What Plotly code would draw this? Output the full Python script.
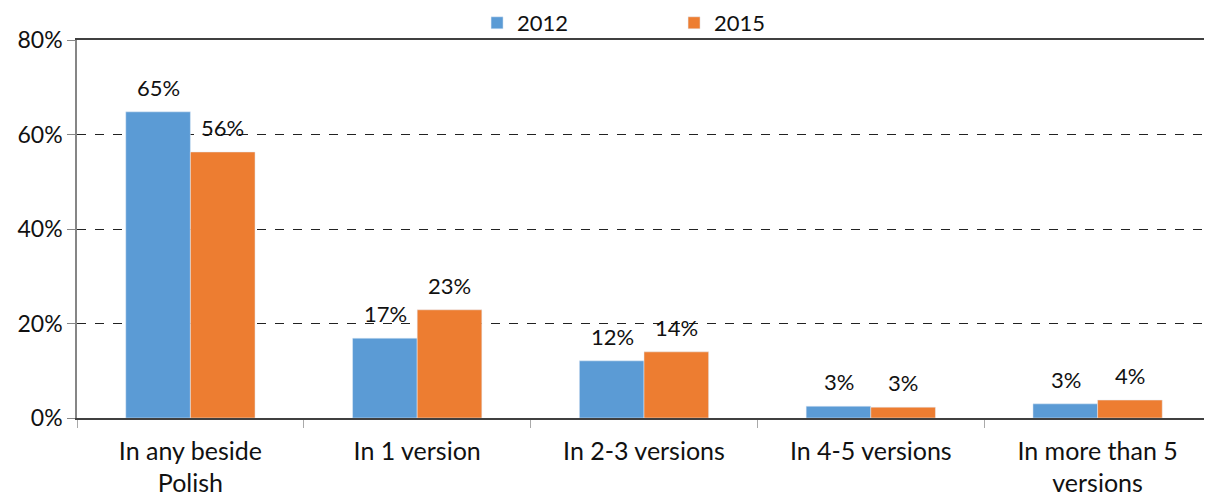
import plotly.graph_objects as go

categories = ["In any beside<br>Polish", "In 1 version", "In 2-3 versions",
              "In 4-5 versions", "In more than 5<br>versions"]
values_2012 = [64.8, 16.9, 12.1, 2.5, 3.0]
values_2015 = [56.3, 22.9, 14.0, 2.3, 3.8]
labels_2012 = ["65%", "17%", "12%", "3%", "3%"]
labels_2015 = ["56%", "23%", "14%", "3%", "4%"]

BLUE = "#5B9BD5"
ORANGE = "#ED7D31"
FONT = "Lato, 'Open Sans', sans-serif"

fig = go.Figure()
fig.add_trace(go.Bar(name="2012", x=categories, y=values_2012, marker_color=BLUE))
fig.add_trace(go.Bar(name="2015", x=categories, y=values_2015, marker_color=ORANGE))

# value labels floating above each bar
for cat, v1, t1, v2, t2 in zip(categories, values_2012, labels_2012, values_2015, labels_2015):
    fig.add_annotation(x=cat, y=v1, text=t1, xshift=-32, yshift=9,
                       yanchor="bottom", showarrow=False, font=dict(size=22))
    fig.add_annotation(x=cat, y=v2, text=t2, xshift=32, yshift=9,
                       yanchor="bottom", showarrow=False, font=dict(size=22))

# right border of the plot area
fig.add_shape(type="line", xref="paper", yref="paper", x0=1, x1=1, y0=0, y1=1,
              line=dict(color="#404040", width=1.5))

# page body has an 8px margin, so the figure is a bit smaller than the window
fig.update_layout(
    width=1204, height=494,
    margin=dict(l=69, r=1, t=32, b=84, autoexpand=False),
    plot_bgcolor="white", paper_bgcolor="white",
    font=dict(family=FONT, size=21, color="#111111"),
    barmode="group", bargap=0.43, bargroupgap=0,
    legend=dict(orientation="h", x=0.5265, xanchor="center", y=1.045, yanchor="middle",
                font=dict(size=22), entrywidth=152, itemwidth=30, maxheight=80,
                bgcolor="rgba(0,0,0,0)"),
    xaxis=dict(
        showline=True, linecolor="#404040", linewidth=1.5, mirror=True,
        ticks="outside", tickson="boundaries", ticklen=8, tickcolor="#aaaaaa",
        tickfont=dict(size=25), ticklabelstandoff=10, automargin=False,
    ),
    yaxis=dict(
        range=[0, 80], dtick=20, ticksuffix="%",
        showline=True, linecolor="#868686", linewidth=1.5,
        ticks="outside", ticklen=8, tickcolor="#868686",
        showgrid=True, gridcolor="#222222", griddash="dash", gridwidth=1,
        zeroline=False, tickfont=dict(size=23), automargin=False,
    ),
)

fig.write_html("out.html")
